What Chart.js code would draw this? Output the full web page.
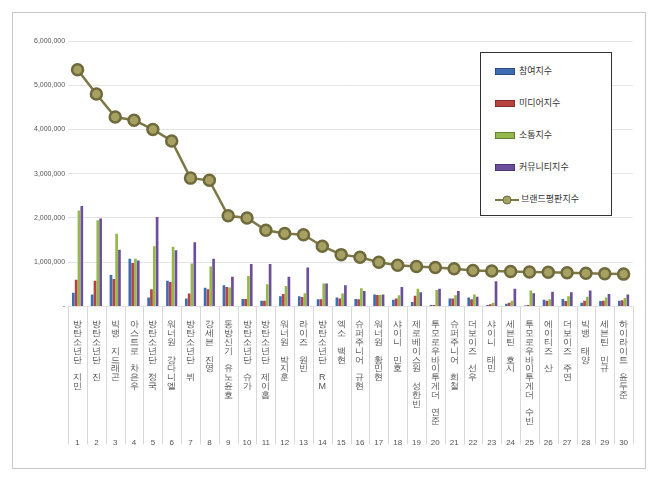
<!DOCTYPE html>
<html>
<head>
<meta charset="utf-8">
<script src="https://cdn.jsdelivr.net/npm/chart.js@4"></script>
<style>
  body { margin: 0; background: #fff; font-family: "Noto Sans CJK KR", sans-serif; }
  #frame { position: absolute; left: 12px; top: 12px; width: 632px; height: 455px; border: 1px solid #c8c8c8; }
  #legend { position: absolute; left: 480px; top: 52px; width: 130px; height: 162px; border: 1px solid #333; background: #fff; font-size: 9px; color: #333; }
  .item { position: absolute; left: 14px; height: 12px; line-height: 12px; }
  .sw { display: inline-block; width: 18px; height: 5px; vertical-align: middle; margin-right: 4px; border: 1px solid rgba(0,0,0,.3); }
</style>
</head>
<body>
<div id="frame"><canvas id="c"></canvas></div>
<div id="legend"></div>
<script>
"use strict";

var names = ["방탄소년단 지민", "방탄소년단 진", "빅뱅 지드래곤", "아스트로 차은우", "방탄소년단 정국",
  "워너원 강다니엘", "방탄소년단 뷔", "강세븐 진영", "동방신기 유노윤호", "방탄소년단 슈가",
  "방탄소년단 제이홉", "워너원 박지훈", "라이즈 원빈", "방탄소년단 RM", "엑소 백현",
  "슈퍼주니어 규현", "워너원 황민현", "샤이니 민호", "제로베이스원 성한빈", "투모로우바이투게더 연준",
  "슈퍼주니어 희철", "더보이즈 선우", "샤이니 태민", "세븐틴 호시", "투모로우바이투게더 수빈",
  "에이티즈 산", "더보이즈 주연", "빅뱅 태양", "세븐틴 민규", "하이라이트 윤두준"];
var ranks = ["1","2","3","4","5","6","7","8","9","10","11","12","13","14","15","16","17","18","19","20",
  "21","22","23","24","25","26","27","28","29","30"];

var participation = [310000, 270000, 710000, 1080000, 200000, 580000, 180000, 420000, 480000, 170000,
  130000, 230000, 230000, 160000, 200000, 170000, 270000, 150000, 100000, 30000,
  180000, 200000, 30000, 60000, 20000, 150000, 170000, 80000, 120000, 130000];
var media = [600000, 580000, 620000, 980000, 390000, 550000, 290000, 390000, 440000, 170000,
  130000, 280000, 210000, 160000, 180000, 160000, 260000, 180000, 240000, 30000,
  180000, 160000, 50000, 80000, 30000, 130000, 120000, 130000, 130000, 140000];
var communication = [2170000, 1950000, 1640000, 1080000, 1360000, 1350000, 970000, 900000, 430000, 690000,
  500000, 460000, 300000, 520000, 290000, 410000, 260000, 250000, 400000, 370000,
  250000, 270000, 80000, 130000, 360000, 160000, 230000, 220000, 200000, 190000];
var community = [2270000, 1990000, 1280000, 1040000, 2020000, 1270000, 1450000, 1080000, 670000, 960000,
  960000, 670000, 880000, 520000, 480000, 350000, 270000, 440000, 320000, 400000,
  350000, 220000, 570000, 400000, 300000, 330000, 320000, 360000, 280000, 270000];
var brandIndex = [5350000, 4800000, 4280000, 4210000, 4000000, 3740000, 2900000, 2850000, 2050000, 2000000,
  1720000, 1650000, 1620000, 1360000, 1170000, 1110000, 1000000, 930000, 900000, 880000,
  850000, 810000, 800000, 790000, 780000, 770000, 760000, 750000, 740000, 730000];

var seriesNames = ["참여지수", "미디어지수", "소통지수", "커뮤니티지수", "브랜드평판지수"];
var barColors = ["#3f6db3", "#b7433e", "#94b84b", "#6c4f9c"];

// legend
var legend = document.getElementById("legend");
seriesNames.forEach(function(n, i) {
  var d = document.createElement("div");
  d.className = "item";
  d.style.top = (12 + i * 32) + "px";
  if (i < 4) {
    d.innerHTML = '<span class="sw" style="background:' + barColors[i] + '"></span>' + n;
  } else {
    d.innerHTML = '<svg width="24" height="10" style="vertical-align:middle;margin-right:2px"><line x1="0" y1="5" x2="24" y2="5" stroke="#7d7846" stroke-width="2"/><circle cx="12" cy="5" r="4" fill="#a6a063" stroke="#6e6a3c"/></svg>' + n;
  }
  legend.appendChild(d);
});

var separators = {
  id: "separators",
  afterDraw: function(chart) {
    var ctx = chart.ctx, xs = chart.scales.x, area = chart.chartArea;
    ctx.save();
    ctx.strokeStyle = "#d8d8d8";
    ctx.lineWidth = 1;
    for (var i = 0; i <= names.length; i++) {
      var px = Math.round(xs.getPixelForValue(i - 0.5)) + 0.5;
      ctx.beginPath();
      ctx.moveTo(px, area.bottom);
      ctx.lineTo(px, area.bottom + 138);
      ctx.stroke();
    }
    ctx.restore();
  }
};

var bars = [participation, media, communication, community].map(function(d, i) {
  return {
    type: "bar", label: seriesNames[i], data: d, backgroundColor: barColors[i],
    categoryPercentage: 0.6, barPercentage: 0.95, order: 2
  };
});

new Chart(document.getElementById("c"), {
  data: {
    labels: names.map(function(n) { return n.split(""); }),
    datasets: bars.concat([{
      type: "line", label: seriesNames[4], data: brandIndex,
      borderColor: "#7d7846", borderWidth: 2.5,
      pointRadius: 5.5, pointBackgroundColor: "#a6a063", pointBorderColor: "#6e6a3c",
      order: 1
    }])
  },
  options: {
    responsive: true, maintainAspectRatio: false, animation: false,
    layout: { padding: { left: 18, right: 12, top: 28, bottom: 20 } },
    plugins: { legend: { display: false }, tooltip: { enabled: false } },
    scales: {
      y: {
        min: 0, max: 6000000,
        ticks: {
          stepSize: 1000000, color: "#555", font: { size: 7 },
          callback: function(v) { return v === 0 ? "-" : v.toLocaleString("en-US"); }
        },
        grid: { color: "#e4e4e4", drawTicks: false },
        border: { display: false }
      },
      x: {
        ticks: { color: "#555", font: { size: 9, lineHeight: 0.98 }, autoSkip: false, maxRotation: 0, padding: 6 },
        grid: { display: false },
        border: { display: false },
        afterFit: function(s) { s.height = 124; }
      },
      x2: {
        type: "category", labels: ranks, position: "bottom", offset: true,
        ticks: { color: "#555", font: { size: 8 }, padding: 0, autoSkip: false, maxRotation: 0 },
        grid: { display: false },
        border: { display: false }
      }
    }
  },
  plugins: [separators]
});
</script>
</body>
</html>
